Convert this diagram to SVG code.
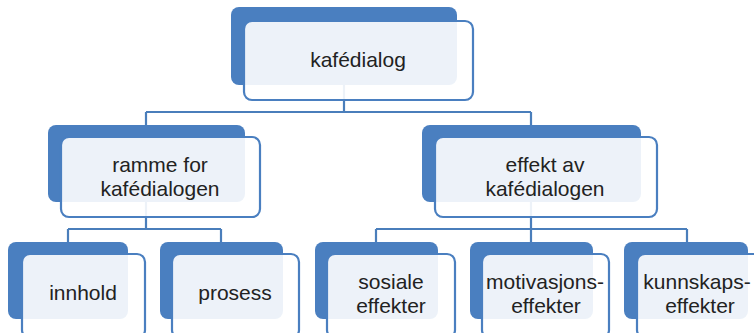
<svg xmlns="http://www.w3.org/2000/svg" width="754" height="333" viewBox="0 0 754 333">
<style>
.back{fill:#4a7fc0}
.front{fill:#ffffff;fill-opacity:0.9;stroke:#4a7fc0;stroke-width:2.2}
.conn{fill:none;stroke:#4a7ebb;stroke-width:2.2}
text{font-family:"Liberation Sans",Arial,sans-serif;font-size:21px;fill:#222222;text-anchor:middle}
</style>
<rect width="754" height="333" fill="#ffffff"/>
<g id="connectors">
<path class="conn" d="M344,85 V112 M146,112 H531 M146,112 V125 M531,112 V125"/>
<path class="conn" d="M146,202 V229 M68,229 H221 M68,229 V243 M221,229 V243"/>
<path class="conn" d="M531,202 V229 M376,229 H687 M376,229 V243 M531,229 V243 M687,229 V243"/>
</g>
<g id="node-kafedialog">
<rect class="back" x="231" y="7" width="226" height="78" rx="8"/>
<rect class="front" x="244" y="21" width="229" height="79" rx="8"/>
<text x="358" y="67">kafédialog</text>
</g>
<g id="node-ramme">
<rect class="back" x="48" y="125" width="197" height="77" rx="8"/>
<rect class="front" x="61" y="137" width="199" height="80" rx="8"/>
<text x="160" y="172">ramme for</text>
<text x="160" y="196">kafédialogen</text>
</g>
<g id="node-effekt">
<rect class="back" x="422" y="125" width="219" height="77" rx="8"/>
<rect class="front" x="435" y="137" width="222" height="80" rx="8"/>
<text x="545" y="172">effekt av</text>
<text x="545" y="196">kafédialogen</text>
</g>
<g id="node-innhold">
<rect class="back" x="8" y="242" width="120" height="77" rx="8"/>
<rect class="front" x="22" y="254" width="123" height="84" rx="8"/>
<text x="83" y="300">innhold</text>
</g>
<g id="node-prosess">
<rect class="back" x="160" y="242" width="123" height="77" rx="8"/>
<rect class="front" x="172" y="254" width="127" height="84" rx="8"/>
<text x="235" y="300">prosess</text>
</g>
<g id="node-sosiale">
<rect class="back" x="315" y="242" width="123" height="77" rx="8"/>
<rect class="front" x="327" y="254" width="128" height="84" rx="8"/>
<text x="391" y="289">sosiale</text>
<text x="391" y="313">effekter</text>
</g>
<g id="node-motivasjon">
<rect class="back" x="470" y="242" width="123" height="77" rx="8"/>
<rect class="front" x="482" y="254" width="127" height="84" rx="8"/>
<text x="545" y="289">motivasjons-</text>
<text x="546" y="313">effekter</text>
</g>
<g id="node-kunnskap">
<rect class="back" x="624" y="242" width="124" height="77" rx="8"/>
<rect class="front" x="637" y="254" width="128" height="84" rx="8"/>
<text x="697" y="289">kunnskaps-</text>
<text x="700" y="313">effekter</text>
</g>
</svg>
